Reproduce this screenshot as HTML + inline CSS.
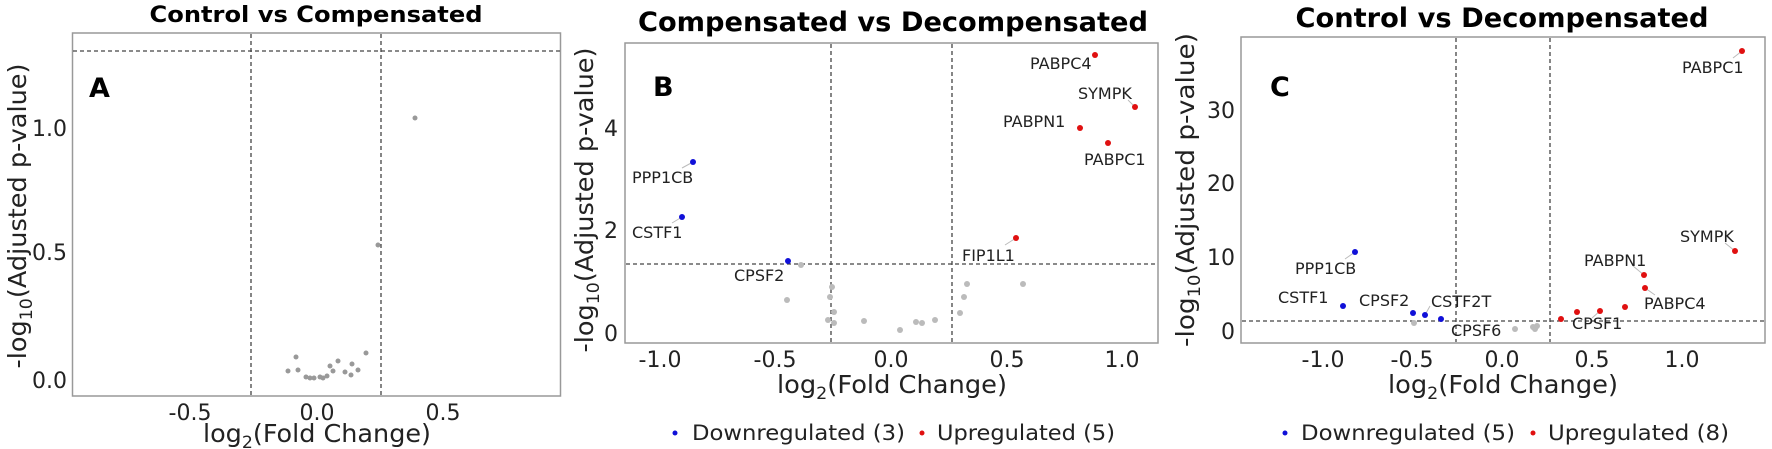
<!DOCTYPE html>
<html><head><meta charset="utf-8"><style>
body{margin:0;background:#fff}
svg{display:block}
text{font-family:"DejaVu Sans","Liberation Sans",sans-serif;fill:#222}
.t{font-weight:bold;font-size:27px;fill:#000;text-anchor:middle}
.tk{font-size:22px}
.ax{font-size:25px;text-anchor:middle}
.pl{font-weight:bold;font-size:27px;fill:#000}
.lb{font-size:16px}
.lg{font-size:21px}
.box{fill:none;stroke:#999;stroke-width:1.5}
.d{stroke:#444;stroke-width:1.3;stroke-dasharray:4,3;fill:none}
.g{fill:#bbb}.b{fill:#1010d8}.r{fill:#e01010}
.ln{stroke:#bbb;stroke-width:1}
</style></head><body>
<svg width="1772" height="449" viewBox="0 0 1772 449">
<!-- Panel A -->
<text class="t" x="316" y="22" style="font-size:22px" textLength="333" lengthAdjust="spacingAndGlyphs">Control vs Compensated</text>
<rect class="box" x="72.5" y="33" width="488" height="363"/>
<line class="d" x1="73" y1="51" x2="560" y2="51"/>
<line class="d" x1="251" y1="34" x2="251" y2="395"/>
<line class="d" x1="381" y1="34" x2="381" y2="395"/>
<text class="pl" x="89" y="97">A</text>
<g class="tk" text-anchor="end"><text x="67" y="136">1.0</text><text x="67" y="260">0.5</text><text x="67" y="388">0.0</text></g>
<g class="tk" text-anchor="middle"><text x="190" y="420">-0.5</text><text x="317" y="420">0.0</text><text x="443" y="420">0.5</text></g>
<text class="ax" x="317" y="442" textLength="228" lengthAdjust="spacingAndGlyphs">log<tspan font-size="17" dy="6">2</tspan><tspan dy="-6">(Fold Change)</tspan></text>
<text class="ax" transform="translate(26,216) rotate(-90)" textLength="305" lengthAdjust="spacingAndGlyphs">-log<tspan font-size="17" dy="6">10</tspan><tspan dy="-6">(Adjusted p-value)</tspan></text>
<g fill="#999"><circle cx="415" cy="118" r="2.5"/><circle cx="378" cy="245" r="2.5"/>
<circle cx="288" cy="371" r="2.5"/><circle cx="296" cy="357" r="2.5"/><circle cx="298" cy="370" r="2.5"/><circle cx="306" cy="377" r="2.5"/><circle cx="310" cy="378" r="2.5"/><circle cx="314" cy="378" r="2.5"/><circle cx="320" cy="377" r="2.5"/><circle cx="323" cy="378" r="2.5"/><circle cx="327" cy="376" r="2.5"/><circle cx="330" cy="366" r="2.5"/><circle cx="333" cy="371" r="2.5"/><circle cx="338" cy="361" r="2.5"/><circle cx="345" cy="372" r="2.5"/><circle cx="351" cy="375" r="2.5"/><circle cx="352" cy="364" r="2.5"/><circle cx="358" cy="370" r="2.5"/><circle cx="366" cy="353" r="2.5"/></g>

<!-- Panel B -->
<text class="t" x="893" y="31" textLength="510" lengthAdjust="spacingAndGlyphs">Compensated vs Decompensated</text>
<rect class="box" x="625" y="43" width="533" height="300"/>
<line class="d" x1="626" y1="264" x2="1157" y2="264"/>
<line class="d" x1="831" y1="44" x2="831" y2="342"/>
<line class="d" x1="952" y1="44" x2="952" y2="342"/>
<text class="pl" x="653" y="96">B</text>
<g class="tk" text-anchor="end"><text x="618" y="136">4</text><text x="618" y="238">2</text><text x="618" y="341">0</text></g>
<g class="tk" text-anchor="middle"><text x="660" y="367">-1.0</text><text x="775" y="367">-0.5</text><text x="891" y="367">0.0</text><text x="1007" y="367">0.5</text><text x="1122" y="367">1.0</text></g>
<text class="ax" x="892" y="393" textLength="230" lengthAdjust="spacingAndGlyphs">log<tspan font-size="17" dy="6">2</tspan><tspan dy="-6">(Fold Change)</tspan></text>
<text class="ax" transform="translate(593,200) rotate(-90)" textLength="305" lengthAdjust="spacingAndGlyphs">-log<tspan font-size="17" dy="6">10</tspan><tspan dy="-6">(Adjusted p-value)</tspan></text>
<g class="g"><circle cx="801" cy="265" r="3"/><circle cx="832" cy="287" r="3"/><circle cx="830" cy="297" r="3"/><circle cx="787" cy="300" r="3"/><circle cx="834" cy="312" r="3"/><circle cx="828" cy="320" r="3"/><circle cx="834" cy="323" r="3"/><circle cx="864" cy="321" r="3"/><circle cx="900" cy="330" r="3"/><circle cx="916" cy="322" r="3"/><circle cx="922" cy="323" r="3"/><circle cx="935" cy="320" r="3"/><circle cx="960" cy="313" r="3"/><circle cx="964" cy="297" r="3"/><circle cx="967" cy="284" r="3"/><circle cx="1023" cy="284" r="3"/></g>
<g class="ln"><line x1="1135" y1="107" x2="1128" y2="100"/><line x1="693" y1="162" x2="682" y2="168"/><line x1="682" y1="217" x2="672" y2="223"/><line x1="1016" y1="238" x2="1005" y2="245"/></g>
<g class="r"><circle cx="1095" cy="55" r="3"/><circle cx="1135" cy="107" r="3"/><circle cx="1080" cy="128" r="3"/><circle cx="1108" cy="143" r="3"/><circle cx="1016" cy="238" r="3"/></g>
<g class="b"><circle cx="693" cy="162" r="3"/><circle cx="682" cy="217" r="3"/><circle cx="788" cy="261" r="3"/></g>
<g class="lb"><text x="1030" y="69">PABPC4</text><text x="1078" y="99">SYMPK</text><text x="1003" y="127">PABPN1</text><text x="1084" y="165">PABPC1</text><text x="632" y="183">PPP1CB</text><text x="632" y="238">CSTF1</text><text x="962" y="261">FIP1L1</text><text x="734" y="281">CPSF2</text></g>
<circle class="b" cx="675" cy="433" r="2.5"/><text class="lg" x="692" y="440" textLength="213" lengthAdjust="spacingAndGlyphs">Downregulated (3)</text>
<circle class="r" cx="922" cy="433" r="2.5"/><text class="lg" x="937" y="440" textLength="178" lengthAdjust="spacingAndGlyphs">Upregulated (5)</text>

<!-- Panel C -->
<text class="t" x="1502" y="27" textLength="413" lengthAdjust="spacingAndGlyphs">Control vs Decompensated</text>
<rect class="box" x="1241" y="37" width="524" height="306"/>
<line class="d" x1="1242" y1="321" x2="1764" y2="321"/>
<line class="d" x1="1456" y1="38" x2="1456" y2="342"/>
<line class="d" x1="1550" y1="38" x2="1550" y2="342"/>
<text class="pl" x="1270" y="96">C</text>
<g class="tk" text-anchor="end"><text x="1235" y="118">30</text><text x="1235" y="191">20</text><text x="1235" y="265">10</text><text x="1235" y="339">0</text></g>
<g class="tk" text-anchor="middle"><text x="1323" y="367">-1.0</text><text x="1412" y="367">-0.5</text><text x="1502" y="367">0.0</text><text x="1592" y="367">0.5</text><text x="1682" y="367">1.0</text></g>
<text class="ax" x="1503" y="393" textLength="230" lengthAdjust="spacingAndGlyphs">log<tspan font-size="17" dy="6">2</tspan><tspan dy="-6">(Fold Change)</tspan></text>
<text class="ax" transform="translate(1194,190) rotate(-90)" textLength="314" lengthAdjust="spacingAndGlyphs">-log<tspan font-size="17" dy="6">10</tspan><tspan dy="-6">(Adjusted p-value)</tspan></text>
<g class="g"><circle cx="1414" cy="323" r="3"/><circle cx="1515" cy="329" r="3"/><circle cx="1533" cy="327" r="3"/><circle cx="1537" cy="326" r="3"/><circle cx="1535" cy="329" r="3"/></g>
<g class="ln"><line x1="1742" y1="51" x2="1733" y2="58"/><line x1="1735" y1="251" x2="1725" y2="243"/><line x1="1644" y1="275" x2="1633" y2="266"/><line x1="1645" y1="288" x2="1655" y2="295"/><line x1="1355" y1="252" x2="1345" y2="259"/><line x1="1425" y1="315" x2="1430" y2="306"/><line x1="1600" y1="311" x2="1592" y2="318"/></g>
<g class="r"><circle cx="1742" cy="51" r="3"/><circle cx="1735" cy="251" r="3"/><circle cx="1644" cy="275" r="3"/><circle cx="1645" cy="288" r="3"/><circle cx="1561" cy="319" r="3"/><circle cx="1577" cy="312" r="3"/><circle cx="1600" cy="311" r="3"/><circle cx="1625" cy="307" r="3"/></g>
<g class="b"><circle cx="1355" cy="252" r="3"/><circle cx="1343" cy="306" r="3"/><circle cx="1413" cy="313" r="3"/><circle cx="1425" cy="315" r="3"/><circle cx="1441" cy="319" r="3"/></g>
<g class="lb"><text x="1682" y="73">PABPC1</text><text x="1680" y="242">SYMPK</text><text x="1584" y="266">PABPN1</text><text x="1644" y="309">PABPC4</text><text x="1572" y="329">CPSF1</text><text x="1295" y="274">PPP1CB</text><text x="1278" y="303">CSTF1</text><text x="1359" y="306">CPSF2</text><text x="1431" y="307">CSTF2T</text><text x="1451" y="336">CPSF6</text></g>
<circle class="b" cx="1285" cy="433" r="2.5"/><text class="lg" x="1301" y="440" textLength="214" lengthAdjust="spacingAndGlyphs">Downregulated (5)</text>
<circle class="r" cx="1533" cy="433" r="2.5"/><text class="lg" x="1548" y="440" textLength="181" lengthAdjust="spacingAndGlyphs">Upregulated (8)</text>
</svg>
</body></html>
